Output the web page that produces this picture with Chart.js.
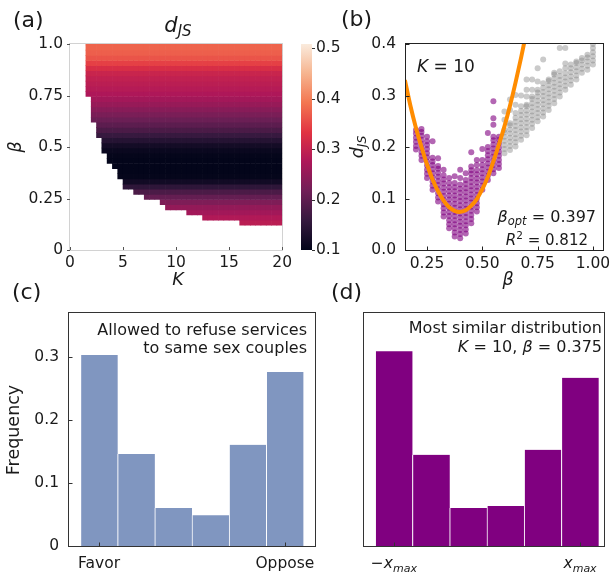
<!DOCTYPE html>
<html><head><meta charset="utf-8">
<script src="https://cdn.jsdelivr.net/npm/chart.js@4.4.0/dist/chart.umd.min.js"></script>
<style>
html,body{margin:0;padding:0;background:#fff;}
#wrap{position:relative;width:615px;height:574px;overflow:hidden;background:#fff;}
canvas{position:absolute;}
</style></head><body>
<div id="wrap">
<canvas id="ca" width="296" height="290" style="left:0px;top:0px"></canvas>
<canvas id="cb" width="44" height="290" style="left:296px;top:0px"></canvas>
<canvas id="cbp" width="275" height="290" style="left:340px;top:0px"></canvas>
<canvas id="cc" width="330" height="304" style="left:0px;top:270px"></canvas>
<canvas id="cd" width="285" height="304" style="left:330px;top:270px"></canvas>
</div>
<script>
// ---------------- DATA ----------------
// (a) heatmap: K cells (lower edge, width 0.5), beta rows (lower edge, height 0.025)
const heatKEdges = [1.5,2,2.5,3,3.5,4,4.5,5,5.5,6,6.5,7,7.5,8,8.5,9,9.5,10,10.5,11,11.5,12,12.5,13,13.5,14,14.5,15,15.5,16,16.5,17,17.5,18,18.5,19,19.5];
const heatBetaMin = [0.745,0.62,0.545,0.47,0.42,0.395,0.345,0.295,0.295,0.27,0.27,0.245,0.245,0.245,0.22,0.195,0.195,0.195,0.195,0.17,0.17,0.17,0.145,0.145,0.145,0.145,0.145,0.145,0.145,0.12,0.12,0.12,0.12,0.12,0.12,0.12,0.12];
const heatBetaEdges = [0.12,0.145,0.17,0.195,0.22,0.245,0.27,0.295,0.32,0.345,0.37,0.395,0.42,0.445,0.47,0.495,0.52,0.545,0.57,0.595,0.62,0.645,0.67,0.695,0.72,0.745,0.77,0.795,0.82,0.845,0.87,0.895,0.92,0.945,0.97,0.995];
const heatDjs = [0.29,0.28,0.265,0.25,0.23,0.205,0.18,0.15,0.118,0.102,0.1,0.1,0.1,0.102,0.108,0.12,0.14,0.16,0.18,0.197,0.212,0.226,0.24,0.254,0.266,0.276,0.284,0.29,0.296,0.305,0.322,0.345,0.362,0.372,0.376,0.376];
const aXTicks = [0,5,10,15,20];
const aYTicks = [0,0.25,0.5,0.75,1];
const aYTickLabels = ['0','0.25','0.5','0.75','1.0'];
const cbTicks = [0.1,0.2,0.3,0.4,0.5];
const cbMin = 0.1, cbMax = 0.5085;

// (b) scatter of d_JS vs beta at K = 10
const bPurpleBeta = [0.2,0.225,0.25,0.275,0.3,0.325,0.35,0.375,0.4,0.425,0.45,0.475,0.5,0.525,0.55,0.575];
const bPurpleD = [
 [0.195,0.202,0.21,0.218,0.226,0.233],
 [0.175,0.183,0.19,0.198,0.206,0.214,0.222,0.229,0.235],
 [0.14,0.148,0.156,0.164,0.172,0.18,0.188,0.196,0.204,0.211,0.22],
 [0.117,0.125,0.133,0.141,0.149,0.157,0.165,0.172,0.179,0.211],
 [0.094,0.102,0.11,0.118,0.126,0.134,0.142,0.15,0.158,0.163,0.178],
 [0.065,0.073,0.081,0.089,0.097,0.105,0.113,0.121,0.129,0.137,0.145,0.156],
 [0.042,0.05,0.058,0.066,0.074,0.082,0.09,0.098,0.106,0.114,0.122,0.13,0.14],
 [0.026,0.034,0.042,0.05,0.058,0.066,0.074,0.082,0.09,0.098,0.106,0.114,0.122,0.13,0.143],
 [0.023,0.031,0.039,0.047,0.055,0.063,0.071,0.079,0.087,0.095,0.103,0.111,0.119,0.127,0.14,0.156],
 [0.032,0.04,0.048,0.056,0.064,0.072,0.08,0.088,0.096,0.104,0.112,0.12,0.128,0.136,0.149],
 [0.052,0.06,0.068,0.076,0.084,0.092,0.1,0.108,0.116,0.124,0.132,0.14,0.148,0.155,0.162,0.19],
 [0.075,0.083,0.091,0.099,0.107,0.115,0.123,0.131,0.139,0.147,0.155,0.165,0.175],
 [0.117,0.125,0.133,0.141,0.149,0.157,0.165,0.175,0.196],
 [0.136,0.144,0.152,0.16,0.168,0.176,0.184,0.192,0.2,0.227],
 [0.149,0.157,0.165,0.173,0.181,0.189,0.197,0.205,0.213,0.22,0.243,0.256,0.289],
 [0.159,0.167,0.175,0.183,0.191,0.199,0.207,0.214,0.22]
];
const bGreyBeta = [0.6,0.625,0.65,0.675,0.7,0.725,0.75,0.775,0.8,0.825,0.85,0.875,0.9,0.925,0.95,0.975,1.0];
const bGreyD = [
 [0.188,0.196,0.204,0.212,0.22,0.228,0.233,0.253,0.269],
 [0.194,0.202,0.21,0.218,0.226,0.234,0.242,0.246,0.272,0.292],
 [0.201,0.209,0.217,0.225,0.233,0.241,0.249,0.257,0.266,0.282,0.301],
 [0.214,0.222,0.23,0.238,0.246,0.254,0.262,0.27,0.279,0.3],
 [0.223,0.231,0.239,0.247,0.255,0.263,0.271,0.279,0.282,0.298,0.311,0.331],
 [0.237,0.245,0.253,0.261,0.269,0.277,0.285,0.293,0.298,0.311,0.331],
 [0.25,0.258,0.266,0.274,0.282,0.29,0.298,0.306,0.311,0.327,0.353],
 [0.259,0.267,0.275,0.283,0.291,0.299,0.307,0.315,0.324,0.37],
 [0.272,0.28,0.288,0.296,0.304,0.312,0.32,0.328,0.331],
 [0.285,0.293,0.301,0.309,0.317,0.325,0.333,0.341,0.344],
 [0.298,0.306,0.314,0.322,0.33,0.338,0.347,0.392],
 [0.311,0.319,0.327,0.335,0.343,0.353,0.362,0.392],
 [0.321,0.329,0.337,0.345,0.353,0.36],
 [0.331,0.339,0.347,0.355,0.363,0.366],
 [0.344,0.352,0.36,0.368,0.373],
 [0.35,0.358,0.366,0.374,0.379],
 [0.36,0.368,0.376,0.384,0.392,0.4]
];
const bFitBeta = [0.15,0.175,0.2,0.225,0.25,0.275,0.3,0.325,0.35,0.375,0.397,0.425,0.45,0.475,0.5,0.525,0.55,0.575,0.6,0.625,0.65,0.675,0.7];
const bFitD    = [0.33,0.28,0.237,0.2,0.166,0.137,0.114,0.096,0.083,0.076,0.074,0.077,0.086,0.099,0.118,0.142,0.172,0.205,0.24,0.28,0.325,0.373,0.425];
const bXTicks = [0.25,0.5,0.75,1.0];
const bYTicks = [0,0.1,0.2,0.3,0.4];

// (c) survey histogram, (d) model histogram
const binPos = [1,2,3,4,5,6];
const cFreq = [0.304,0.1465,0.0605,0.049,0.161,0.277];
const dFreq = [0.310,0.145,0.0605,0.0637,0.153,0.2675];
const cYTicks = [0,0.1,0.2,0.3];
const cXTicks = [1,6];
const cXTickLabels = ['Favor','Oppose'];

// ---------------- HELPERS ----------------
const FONT = '"DejaVu Sans", "Liberation Sans", sans-serif';
const TXT = '#1a1a1a';
const rocketStops = [[0,3,5,26],[0.143,53,25,62],[0.286,112,31,87],[0.429,173,23,89],[0.571,225,51,66],[0.714,243,118,81],[0.857,246,180,143],[1,250,235,221]];
function rocket(t){
  t = Math.max(0, Math.min(1, t));
  for (let i=1;i<rocketStops.length;i++){
    const a=rocketStops[i-1], b=rocketStops[i];
    if (t<=b[0]){
      const f=(t-a[0])/(b[0]-a[0]);
      return 'rgb('+Math.round(a[1]+f*(b[1]-a[1]))+','+Math.round(a[2]+f*(b[2]-a[2]))+','+Math.round(a[3]+f*(b[3]-a[3]))+')';
    }
  }
  return 'rgb(250,235,221)';
}
function rich(ctx, parts, x, y, align, rot){
  ctx.save();
  ctx.translate(x,y);
  if (rot) ctx.rotate(rot);
  let w=0;
  for (const p of parts){ ctx.font=(p.it?'italic ':'')+p.s+'px '+FONT; p.w=ctx.measureText(p.t).width; w+=p.w; }
  let cx = align==='right' ? -w : (align==='center' ? -w/2 : 0);
  ctx.textAlign='left'; ctx.textBaseline='alphabetic'; ctx.fillStyle=TXT;
  for (const p of parts){ ctx.font=(p.it?'italic ':'')+p.s+'px '+FONT; ctx.fillText(p.t, cx, p.dy||0); cx+=p.w; }
  ctx.restore();
}
function tickMarks(chart, axis, values, len, inward, color, side){
  const ca=chart.chartArea, ctx=chart.ctx, sc=chart.scales[axis];
  ctx.save(); ctx.strokeStyle=color; ctx.lineWidth=1; ctx.beginPath();
  for (const v of values){
    const p=Math.round(sc.getPixelForValue(v))+0.5;
    if (side==='bottom'){ const y0=ca.bottom; ctx.moveTo(p,y0); ctx.lineTo(p, inward? y0-len : y0+len); }
    else if (side==='left'){ const x0=ca.left; ctx.moveTo(x0,p); ctx.lineTo(inward? x0+len : x0-len, p); }
    else { const x0=ca.right; ctx.moveTo(x0,p); ctx.lineTo(inward? x0-len : x0+len, p); }
  }
  ctx.stroke(); ctx.restore();
}
function box(chart, color){
  const {left,top,right,bottom}=chart.chartArea, ctx=chart.ctx;
  ctx.save(); ctx.strokeStyle=color; ctx.lineWidth=1;
  ctx.strokeRect(Math.round(left)-0.5, Math.round(top)-0.5, Math.round(right)-Math.round(left)+1, Math.round(bottom)-Math.round(top)+1);
  ctx.restore();
}
const fixedTicks = vals => s => { s.ticks = vals.map(v=>({value:v})); };
const base = {responsive:false, animation:false, devicePixelRatio:1, events:[]};
const noPlug = {legend:{display:false}, tooltip:{enabled:false}};
const tickFont = {family:FONT, size:15.5};
function axisOpts(extra){
  return Object.assign({grid:{display:false, drawTicks:false}, border:{display:false}}, extra);
}

// ---------------- (a) HEATMAP ----------------
const cells=[], cellColors=[];
heatKEdges.forEach((k,i)=>{
  heatBetaEdges.forEach((b,j)=>{
    if (b < heatBetaMin[i]-1e-9) return;
    cells.push({x:k+0.25, y:[b, Math.min(b+0.025,1)]});
    cellColors.push(rocket((heatDjs[j]-cbMin)/(cbMax-cbMin)));
  });
});
new Chart(document.getElementById('ca'), {
  type:'bar',
  data:{datasets:[{data:cells, backgroundColor:cellColors, borderWidth:0, barPercentage:1, categoryPercentage:1}]},
  options:Object.assign({}, base, {
    layout:{padding:{left:0,right:9,top:44,bottom:0}},
    plugins:noPlug,
    scales:{
      x:axisOpts({type:'linear', min:0, max:20, offset:false, afterFit:s=>{s.height=40;}, afterBuildTicks:fixedTicks(aXTicks),
        ticks:{font:tickFont, color:TXT, padding:4, maxRotation:0, autoSkip:false}}),
      y:axisOpts({type:'linear', min:0, max:1, afterFit:s=>{s.width=70;}, afterBuildTicks:fixedTicks(aYTicks),
        ticks:{font:tickFont, color:TXT, padding:7, callback:(v,i)=>aYTickLabels[i]}})
    }
  }),
  plugins:[{id:'decoA',
    beforeDatasetsDraw(chart){ box(chart,'#d2d2d2'); },
    afterDraw(chart){
      const ctx=chart.ctx;
      tickMarks(chart,'x',aXTicks,3,true,'#555','bottom');
      tickMarks(chart,'y',aYTicks,3,false,'#555','left');
      rich(ctx,[{t:'(a)',s:22}],13,27,'left');
      rich(ctx,[{t:'d',it:true,s:21},{t:'JS',it:true,s:15,dy:3.5}],178,32,'center');
      rich(ctx,[{t:'K',it:true,s:17.5}],178,285,'center');
      rich(ctx,[{t:'β',it:true,s:17.5}],21,147,'center',-Math.PI/2);
    }}]
});

// colorbar
new Chart(document.getElementById('cb'), {
  type:'bar',
  data:{labels:[''], datasets:[{data:[[cbMin,cbMax]], borderWidth:0, barPercentage:1, categoryPercentage:1,
    backgroundColor:(c)=>{
      const ch=c.chart, ca=ch.chartArea; if(!ca) return '#000';
      const y=ch.scales.y; const g=ch.ctx.createLinearGradient(0,y.getPixelForValue(cbMin),0,y.getPixelForValue(cbMax));
      rocketStops.forEach(s=>g.addColorStop(s[0],'rgb('+s[1]+','+s[2]+','+s[3]+')'));
      return g;
    }}]},
  options:Object.assign({}, base, {
    layout:{padding:{left:5,right:0,top:44,bottom:40}},
    plugins:noPlug,
    scales:{
      x:{display:false},
      y:axisOpts({position:'right', type:'linear', min:cbMin, max:cbMax, afterFit:s=>{s.width=28;}, afterBuildTicks:fixedTicks(cbTicks),
        ticks:{font:tickFont, color:TXT, padding:4, callback:v=>v.toFixed(1)}})
    }
  }),
  plugins:[{id:'decoCB', afterDraw(chart){ tickMarks(chart,'y',cbTicks,3,false,'#333','right'); }}]
});

// ---------------- (b) SCATTER ----------------
const purplePts=[], greyPts=[], fitPts=[];
bPurpleBeta.forEach((b,i)=>bPurpleD[i].forEach(d=>purplePts.push({x:b,y:d})));
bGreyBeta.forEach((b,i)=>bGreyD[i].forEach(d=>greyPts.push({x:b,y:d})));
bFitBeta.forEach((b,i)=>fitPts.push({x:b,y:bFitD[i]}));
new Chart(document.getElementById('cbp'), {
  type:'scatter',
  data:{datasets:[
    {data:fitPts, showLine:true, borderColor:'#ff8c00', borderWidth:4, pointRadius:0, cubicInterpolationMode:'monotone', fill:false, clip:0},
    {data:purplePts, backgroundColor:'rgba(128,0,128,0.6)', borderWidth:0, pointRadius:3, clip:0},
    {data:greyPts, backgroundColor:'rgba(128,128,128,0.42)', borderWidth:0, pointRadius:3, clip:0}
  ]},
  options:Object.assign({}, base, {
    layout:{padding:{left:0,right:6,top:44,bottom:0}},
    plugins:noPlug,
    scales:{
      x:axisOpts({type:'linear', min:0.155, max:1.044, afterFit:s=>{s.height=40;}, afterBuildTicks:fixedTicks(bXTicks),
        ticks:{font:tickFont, color:TXT, padding:4.5, maxRotation:0, autoSkip:false, callback:v=>v.toFixed(2)}}),
      y:axisOpts({type:'linear', min:0, max:0.4, afterFit:s=>{s.width=66;}, afterBuildTicks:fixedTicks(bYTicks),
        ticks:{font:tickFont, color:TXT, padding:10, callback:v=>v.toFixed(1)}})
    }
  }),
  plugins:[{id:'decoB', afterDraw(chart){
    const ctx=chart.ctx, ox=340;
    box(chart,'#222');
    tickMarks(chart,'x',bXTicks,3.5,true,'#222','bottom');
    tickMarks(chart,'y',bYTicks,3.5,true,'#222','left');
    rich(ctx,[{t:'(b)',s:22}],341-ox,26,'left');
    rich(ctx,[{t:'K',it:true,s:17},{t:' = 10',s:17}],417-ox,72,'left');
    rich(ctx,[{t:'β',it:true,s:16},{t:'opt',it:true,s:11.5,dy:3.5},{t:' = 0.397',s:16}],596-ox,221.5,'right');
    rich(ctx,[{t:'R',it:true,s:15},{t:'2',s:10.5,dy:-6.5},{t:' = 0.812',s:15}],588-ox,245,'right');
    rich(ctx,[{t:'d',it:true,s:17.5},{t:'JS',it:true,s:12.5,dy:3}],363-ox,147,'center',-Math.PI/2);
    rich(ctx,[{t:'β',it:true,s:17.5}],508-ox,285,'center');
  }}]
});

// ---------------- (c) & (d) HISTOGRAMS ----------------
function histChart(id, freqs, color, padRight, yW, xMin, xMax, showY, deco){
  return new Chart(document.getElementById(id), {
    type:'bar',
    data:{datasets:[{data:binPos.map((p,i)=>({x:p,y:freqs[i]})), backgroundColor:color, borderColor:'#ffffff',
      borderWidth:{left:1,right:0,top:0,bottom:0}, borderSkipped:false, barPercentage:1, categoryPercentage:1}]},
    options:Object.assign({}, base, {
      layout:{padding:{left:0,right:padRight,top:43,bottom:0}},
      plugins:noPlug,
      scales:{
        x:axisOpts({type:'linear', min:xMin, max:xMax, offset:false, afterFit:s=>{s.height=28;}, afterBuildTicks:fixedTicks(cXTicks),
          ticks:{display:showY, font:tickFont, color:TXT, padding:9, maxRotation:0, autoSkip:false, callback:(v,i)=>cXTickLabels[i]}}),
        y:axisOpts({type:'linear', min:0, max:0.3707, afterFit:s=>{s.width=yW;}, afterBuildTicks:fixedTicks(cYTicks),
          ticks:{display:showY, font:tickFont, color:TXT, padding:10, callback:v=>(v===0?'0':v.toFixed(1))}})
      }
    }),
    plugins:[{id:'deco'+id, afterDraw:deco}]
  });
}
histChart('cc', cFreq, '#8096c0', 15, 69, 0.19, 6.81, true, function(chart){
  const ctx=chart.ctx, oy=270;
  box(chart,'#333');
  tickMarks(chart,'x',cXTicks,3.5,true,'#333','bottom');
  tickMarks(chart,'y',cYTicks,3.5,true,'#333','left');
  rich(ctx,[{t:'(c)',s:22}],12,299-oy,'left');
  rich(ctx,[{t:'Frequency',s:17.5}],19,430-oy,'center',-Math.PI/2);
  rich(ctx,[{t:'Allowed to refuse services',s:16}],307,335-oy,'right');
  rich(ctx,[{t:'to same sex couples',s:16}],307,352.5-oy,'right');
});
histChart('cd', dFreq, '#800080', 11, 34, 0.197, 6.643, false, function(chart){
  const ctx=chart.ctx, ox=330, oy=270, sx=chart.scales.x;
  box(chart,'#333');
  tickMarks(chart,'x',cXTicks,3.5,true,'#333','bottom');
  rich(ctx,[{t:'(d)',s:22}],331-ox,299-oy,'left');
  rich(ctx,[{t:'Most similar distribution',s:16}],602-ox,333.3-oy,'right');
  rich(ctx,[{t:'K',it:true,s:16},{t:' = 10, ',s:16},{t:'β',it:true,s:16},{t:' = 0.375',s:16}],602-ox,351.5-oy,'right');
  rich(ctx,[{t:'−',s:15.5},{t:'x',it:true,s:15.5},{t:'max',it:true,s:11,dy:3.5}],sx.getPixelForValue(cXTicks[0]),568-oy,'center');
  rich(ctx,[{t:'x',it:true,s:15.5},{t:'max',it:true,s:11,dy:3.5}],sx.getPixelForValue(cXTicks[1]),568-oy,'center');
});
</script>
</body></html>
